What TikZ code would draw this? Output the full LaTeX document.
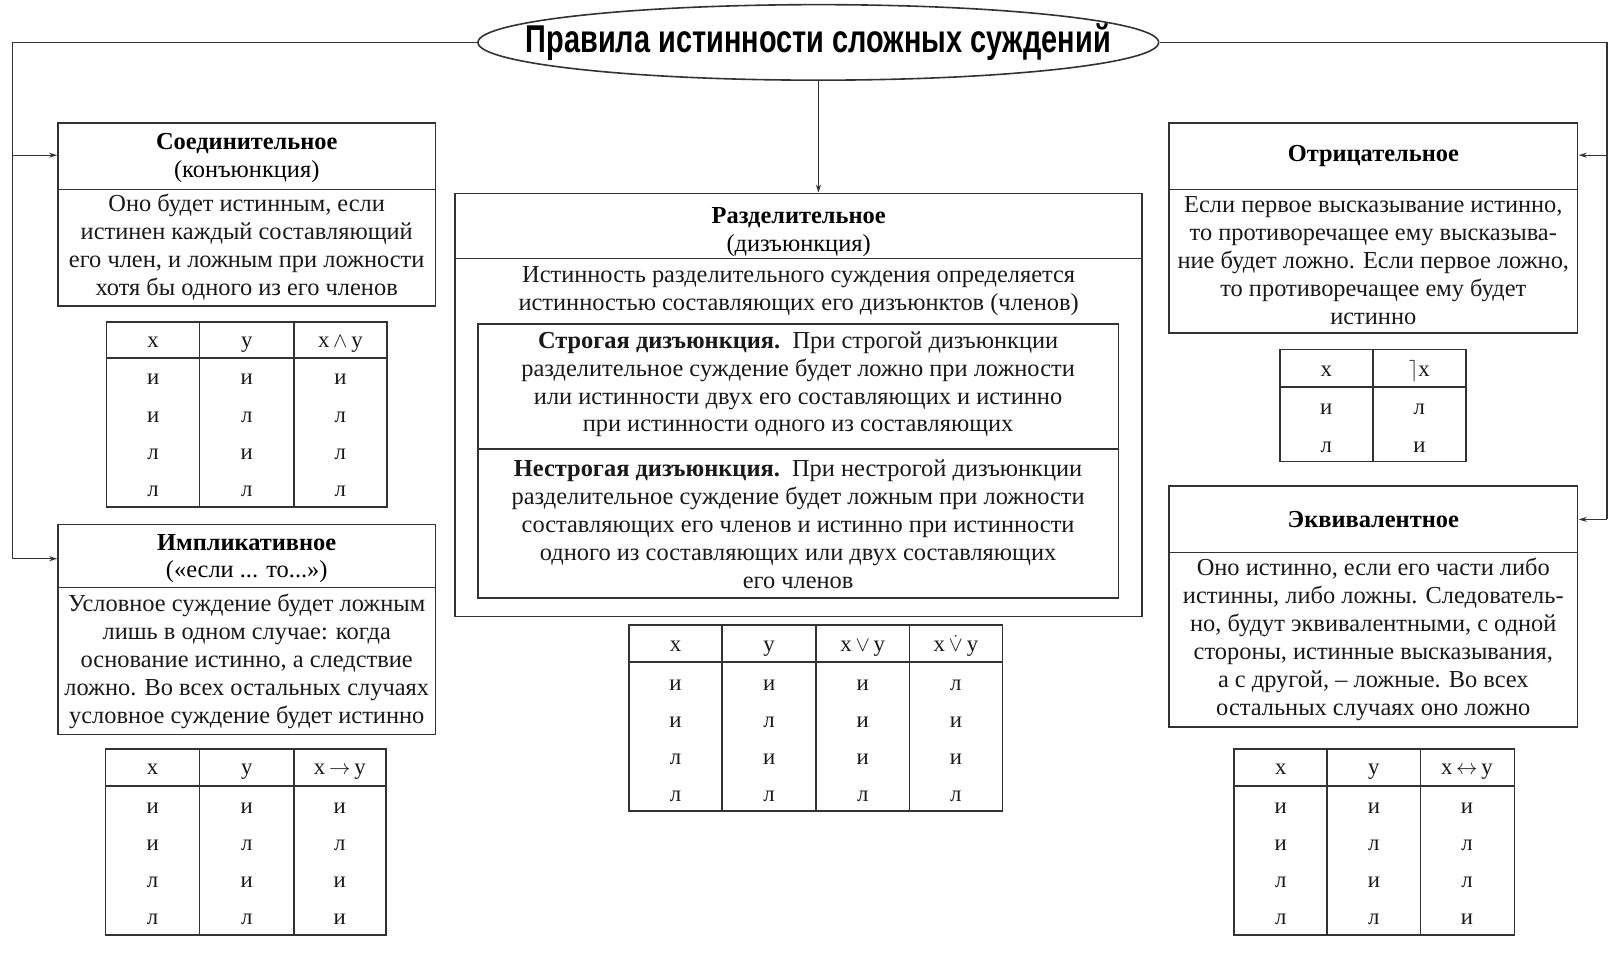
\documentclass[tikz,border=0pt]{standalone}
\usepackage{fontspec}
\setmainfont{Liberation Serif}
\newfontfamily\titlefont[FakeStretch=0.745]{Liberation Sans}
\usetikzlibrary{shapes.geometric,arrows.meta}
\begin{document}
\begin{tikzpicture}[x=1pt,y=-1pt, scale=1.0345, every node/.append style={transform shape},
  ln/.style={draw=black!80, line width=1.6pt},
  arr/.style={draw=black!80, line width=1.4pt, -{Stealth[length=8pt,width=5pt]}},
  box/.style={ln, rectangle, inner sep=0pt},
  body/.style={align=center, font=\fontsize{23.6}{27}\selectfont, text=black!90, inner sep=0pt},
  head/.style={align=center, font=\fontsize{23.6}{27}\selectfont\bfseries, text=black, inner sep=0pt},
  cell/.style={anchor=base, font=\fontsize{22}{25}\selectfont, text=black!90, inner sep=0pt}]
\useasboundingbox (0,0) rectangle (1567.9,920.25);
\fill[white] (0,0) rectangle (1567.9,920.25);

% title
\node[ln, ellipse, minimum width=658pt, minimum height=73pt, inner sep=0pt] (title) at (791,41) {};
\node[font=\titlefont\bfseries\fontsize{37.5}{40}\selectfont, inner sep=0pt] (titleT) at (791,41)
      {Правила истинности сложных суждений};

% left box 1
\node[box, minimum width=365pt, minimum height=177pt] (soed) at (238.5,207.5) {};
\draw[ln] (56,183) -- (421,183);
\node[head] (soedH) at (238.5,153) {Соединительное\\{\mdseries (конъюнкция)}};
\node[body] (soedB) at (238.5,239) {Оно будет истинным, если\\истинен каждый составляющий\\его член, и ложным при ложности\\хотя бы одного из его членов};

% left table 1
\node[box, minimum width=271pt, minimum height=179pt] (t1) at (238.5,400.5) {};
\draw[ln] (103,346) -- (374,346) (193,311) -- (193,490) (284,311) -- (284,490);
\node[cell] at (148,335.5) {x};
\node[cell] at (238.5,335.5) {y};
\node[cell] at (329,335.5) {x\,$\wedge$\,y};
\foreach \a/\b/\c [count=\i] in {и/и/и,и/л/л,л/и/л,л/л/л}{
  \node[cell] at (148,336+36*\i) {\a};
  \node[cell] at (238.5,336+36*\i) {\b};
  \node[cell] at (329,336+36*\i) {\c};
}

% left box 2
\node[box, minimum width=365pt, minimum height=203pt] (impl) at (238.5,608.5) {};
\draw[ln] (56,568) -- (421,568);
\node[head] (implH) at (238.5,540) {Импликативное\\{\mdseries («если ... то...»)}};
\node[body] (implB) at (238.5,639.5) {Условное суждение будет ложным\\лишь в одном случае: когда\\основание истинно, а следствие\\ложно. Во всех остальных случаях\\условное суждение будет истинно};

% left table 2
\node[box, minimum width=271pt, minimum height=180pt] (t2) at (237.5,814) {};
\draw[ln] (102,760) -- (373,760) (193,724) -- (193,904) (284,724) -- (284,904);
\node[cell] at (147.5,749) {x};
\node[cell] at (238.5,749) {y};
\node[cell] at (328.5,749) {x\,$\rightarrow$\,y};
\foreach \a/\b/\c [count=\i] in {и/и/и,и/л/л,л/и/и,л/л/и}{
  \node[cell] at (147.5,750+36*\i) {\a};
  \node[cell] at (238.5,750+36*\i) {\b};
  \node[cell] at (328.5,750+36*\i) {\c};
}

% centre box
\node[box, minimum width=664pt, minimum height=409pt] (raz) at (772,391.5) {};
\draw[ln] (440,250) -- (1104,250);
\node[head] (razH) at (772,224) {Разделительное\\{\mdseries (дизъюнкция)}};
\node[body] (razB) at (772,281) {Истинность разделительного суждения определяется\\истинностью составляющих его дизъюнктов (членов)};
\node[box, minimum width=619pt, minimum height=265pt] (inner) at (771.5,445.5) {};
\draw[ln] (462,434) -- (1081,434);
\node[body] (strict) at (771.5,371.5) {\textbf{Строгая дизъюнкция.}\ \ При строгой дизъюнкции\\разделительное суждение будет ложно при ложности\\или истинности двух его составляющих и истинно\\при истинности одного из составляющих};
\node[body] (nstrict) at (771.5,507) {\textbf{Нестрогая дизъюнкция.}\ \ При нестрогой дизъюнкции\\разделительное суждение будет ложным при ложности\\составляющих его членов и истинно при истинности\\одного из составляющих или двух составляющих\\его членов};

% centre table
\node[box, minimum width=361pt, minimum height=180pt] (t3) at (788.5,694) {};
\draw[ln] (608,640) -- (969,640) (698,604) -- (698,784) (789,604) -- (789,784) (879,604) -- (879,784);
\node[cell] at (653,630) {x};
\node[cell] at (743.5,630) {y};
\node[cell] at (834,630) {x\,$\vee$\,y};
\node[cell] at (924,630) {x\,$\dot\vee$\,y};
\foreach \a/\b/\c/\d [count=\i] in {и/и/и/л,и/л/и/и,л/и/и/и,л/л/л/л}{
  \node[cell] at (653,631+36*\i) {\a};
  \node[cell] at (743.5,631+36*\i) {\b};
  \node[cell] at (834,631+36*\i) {\c};
  \node[cell] at (924,631+36*\i) {\d};
}

% right box 1
\node[box, minimum width=395pt, minimum height=203pt] (otr) at (1327.5,220.5) {};
\draw[ln] (1130,183) -- (1525,183);
\node[head] (otrH) at (1327.5,151) {Отрицательное};
\node[body] (otrB) at (1327.5,252) {Если первое высказывание истинно,\\то противоречащее ему высказыва-\\ние будет ложно. Если первое ложно,\\то противоречащее ему будет\\истинно};

% right table 4
\node[box, minimum width=180pt, minimum height=108pt] (t4) at (1327,392) {};
\draw[ln] (1237,374) -- (1417,374) (1327,338) -- (1327,446);
\node[cell] at (1282,363.5) {x};
\node[cell] at (1372,363.5) {$\rceil$x};
\foreach \a/\b [count=\i] in {и/л,л/и}{
  \node[cell] at (1282,365+36*\i) {\a};
  \node[cell] at (1372,365+36*\i) {\b};
}

% right box 2
\node[box, minimum width=395pt, minimum height=233pt] (ekv) at (1327.5,586.5) {};
\draw[ln] (1130,534) -- (1525,534);
\node[head] (ekvH) at (1327.5,502) {Эквивалентное};
\node[body] (ekvB) at (1327.5,618) {Оно истинно, если его части либо\\истинны, либо ложны. Следователь-\\но, будут эквивалентными, с одной\\стороны, истинные высказывания,\\а с другой, -- ложные. Во всех\\остальных случаях оно ложно};

% right table 5
\node[box, minimum width=271pt, minimum height=180pt] (t5) at (1328.5,814) {};
\draw[ln] (1193,760) -- (1464,760) (1283,724) -- (1283,904) (1373,724) -- (1373,904);
\node[cell] at (1238,749) {x};
\node[cell] at (1328,749) {y};
\node[cell] at (1418,749) {x\,$\leftrightarrow$\,y};
\foreach \a/\b/\c [count=\i] in {и/и/и,и/л/л,л/и/л,л/л/и}{
  \node[cell] at (1238,750+36*\i) {\a};
  \node[cell] at (1328,750+36*\i) {\b};
  \node[cell] at (1418,750+36*\i) {\c};
}

% connectors
\coordinate (lt) at (12,41);
\coordinate (lb) at (12,540);
\coordinate (la) at (12,150);
\coordinate (rt) at (1553,41);
\coordinate (rb) at (1553,502);
\coordinate (ra) at (1553,150);
\draw[ln] (title.west) -- (lt) -- (lb);
\draw[arr] (la) -- (la -| soed.west);
\draw[arr] (lb) -- (lb -| impl.west);
\draw[ln] (title.east) -- (rt) -- (rb);
\draw[arr] (ra) -- (ra -| otr.east);
\draw[arr] (rb) -- (rb -| ekv.east);
\draw[arr] (title.south) -- (title.south |- raz.north);
\end{tikzpicture}
\end{document}
